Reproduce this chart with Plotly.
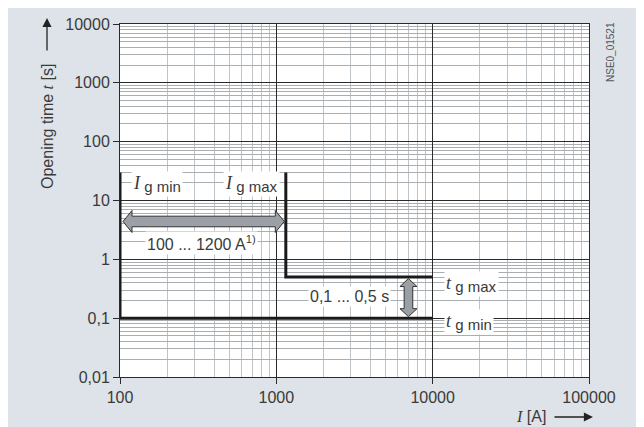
import math
import plotly.graph_objects as go

# characteristic (I in A, t in s)
I_g_min = 100
I_g_max = 1150
I_end = 10000
t_g_min = 0.1
t_g_max = 0.5
t_top = 30

# double arrows
range_arrow_I = [100, 1150]
range_arrow_t_level = 4.4
time_arrow_t = [0.1, 0.5]
time_arrow_I_pos = 7000

x_tickvals = [100, 1000, 10000, 100000]
x_ticktext = ["100", "1000", "10000", "100000"]
y_tickvals = [0.01, 0.1, 1, 10, 100, 1000, 10000]
y_ticktext = ["0,01", "0,1", "1", "10", "100", "1000", "10000"]

W, H = 644, 427
ML, MT = 112, 16
PW, PH = 469, 353
MR, MB = W - ML - PW, H - MT - PH
SX = PW / 3.0   # px per decade x
SY = PH / 6.0   # px per decade y
OFF = 8         # page margin in the screenshot

TXT = "#3a3a3a"
FONT = "Liberation Sans, Arial, sans-serif"
SERIF = "Liberation Serif, Times New Roman, serif"
ARROW_FILL = "#9aa0a6"


def px_x(sx):
    return (sx - OFF - ML) / PW


def px_y(sy):
    return (H - MB - (sy - OFF)) / PH


def h_arrow(xa, xb, y, gap0=3, gap1=1.5, head=9, hh=11, bh=5.3):
    x0 = math.log10(xa) + gap0 / SX
    x1 = math.log10(xb) - gap1 / SX
    ly = math.log10(y)
    hd, a, b = head / SX, hh / SY, bh / SY
    pts = [(x0, ly), (x0 + hd, ly + a), (x0 + hd, ly + b), (x1 - hd, ly + b),
           (x1 - hd, ly + a), (x1, ly), (x1 - hd, ly - a), (x1 - hd, ly - b),
           (x0 + hd, ly - b), (x0 + hd, ly - a), (x0, ly)]
    return [10 ** p[0] for p in pts], [10 ** p[1] for p in pts]


def v_arrow(ya, yb, x, gap0=1.5, gap1=1.5, head=8, hh=8.5, bh=4.3):
    y0 = math.log10(ya) + gap0 / SY
    y1 = math.log10(yb) - gap1 / SY
    lx = math.log10(x)
    hd, a, b = head / SY, hh / SX, bh / SX
    pts = [(lx, y0), (lx + a, y0 + hd), (lx + b, y0 + hd), (lx + b, y1 - hd),
           (lx + a, y1 - hd), (lx, y1), (lx - a, y1 - hd), (lx - b, y1 - hd),
           (lx - b, y0 + hd), (lx - a, y0 + hd), (lx, y0)]
    return [10 ** p[0] for p in pts], [10 ** p[1] for p in pts]


fig = go.Figure()

fig.add_trace(go.Scatter(
    x=[I_g_min, I_g_min, I_end], y=[t_top, t_g_min, t_g_min],
    mode="lines", line=dict(color="#1a1a1a", width=3), hoverinfo="skip"))
fig.add_trace(go.Scatter(
    x=[I_g_max, I_g_max, I_end], y=[t_top, t_g_max, t_g_max],
    mode="lines", line=dict(color="#1a1a1a", width=3), hoverinfo="skip"))

ax_, ay_ = h_arrow(range_arrow_I[0], range_arrow_I[1], range_arrow_t_level)
fig.add_trace(go.Scatter(x=ax_, y=ay_, mode="lines", fill="toself",
                         fillcolor=ARROW_FILL, line=dict(color="#333", width=1),
                         hoverinfo="skip"))
bx_, by_ = v_arrow(time_arrow_t[0], time_arrow_t[1], time_arrow_I_pos)
fig.add_trace(go.Scatter(x=bx_, y=by_, mode="lines", fill="toself",
                         fillcolor=ARROW_FILL, line=dict(color="#333", width=1),
                         hoverinfo="skip"))


def lab(text, x, y, xanchor="center"):
    fig.add_annotation(x=x, y=y, xref="x", yref="y", text=text, showarrow=False,
                       xanchor=xanchor, yanchor="middle", bgcolor="white",
                       borderpad=1, font=dict(size=16, color=TXT, family=FONT))


def sym(letter, sub):
    return (f"<span style='font-family:{SERIF};font-size:18px'><i>{letter}</i></span>"
            f"<sub><span style='font-size:15px'> {sub}</span></sub>")


lab(sym("I", "g min"), 2.07, 1.28, "left")
lab(sym("I", "g max"), math.log10(I_g_max) - 0.04, 1.28, "right")
lab("100 ... 1200 A<sup>1)</sup>", 2.52, 0.28)
lab("0,1 ... 0,5 s", 3.47, -0.635)
lab(sym("t", "g max"), 4.07, -0.42, "left")
lab(sym("t", "g min"), 4.07, -1.06, "left")

# axis titles with arrows
fig.add_annotation(xref="paper", yref="paper", x=px_x(47), y=px_y(127),
                   xanchor="center", yanchor="middle",
                   textangle=-90, showarrow=False,
                   text=f"Opening time <span style='font-family:{SERIF}'><i>t</i></span> [s]",
                   font=dict(size=16, color=TXT, family=FONT))
fig.add_annotation(xref="paper", yref="paper", x=px_x(47), y=px_y(18),
                   ax=0, ay=34, text="", showarrow=True,
                   arrowhead=2, arrowsize=1.4, arrowwidth=1.3, arrowcolor="#222")
fig.add_annotation(xref="paper", yref="paper", x=px_x(548), y=px_y(416),
                   xanchor="right", yanchor="middle", showarrow=False,
                   text=f"<span style='font-family:{SERIF}'><i>I</i></span> [A]",
                   font=dict(size=16, color=TXT, family=FONT))
fig.add_annotation(xref="paper", yref="paper", x=px_x(593), y=px_y(417),
                   ax=-40, ay=0, text="", showarrow=True,
                   arrowhead=2, arrowsize=1.4, arrowwidth=1.3, arrowcolor="#222")
fig.add_annotation(xref="paper", yref="paper", x=px_x(611), y=px_y(52),
                   xanchor="center", yanchor="middle",
                   textangle=-90, showarrow=False,
                   text="NSE0_01521", font=dict(size=10, color="#555", family=FONT))

axis_common = dict(
    type="log", showgrid=True, gridcolor="#2a2a2a", gridwidth=1,
    showline=True, linecolor="#2a2a2a", linewidth=1, mirror=True,
    ticks="outside", ticklen=6, tickcolor="#2a2a2a",
    tickfont=dict(size=16, color=TXT, family=FONT), zeroline=False,
    automargin=False,
)

fig.update_xaxes(**axis_common, range=[2, 5], tickvals=x_tickvals,
                 ticktext=x_ticktext,
                 minor=dict(dtick="D1", showgrid=True, gridcolor="#bfc4c9",
                            gridwidth=1, ticks=""))
fig.update_yaxes(**axis_common, range=[-2, 4], tickvals=y_tickvals,
                 ticktext=y_ticktext,
                 minor=dict(dtick="D1", showgrid=True, gridcolor="#a9aeb3",
                            gridwidth=1, ticks=""))

fig.update_layout(
    width=W, height=H, showlegend=False,
    margin=dict(l=ML, r=MR, t=MT, b=MB, autoexpand=False),
    paper_bgcolor="#dde3e8", plot_bgcolor="white",
    font=dict(family=FONT, color=TXT),
)

fig.write_html("out.html")
